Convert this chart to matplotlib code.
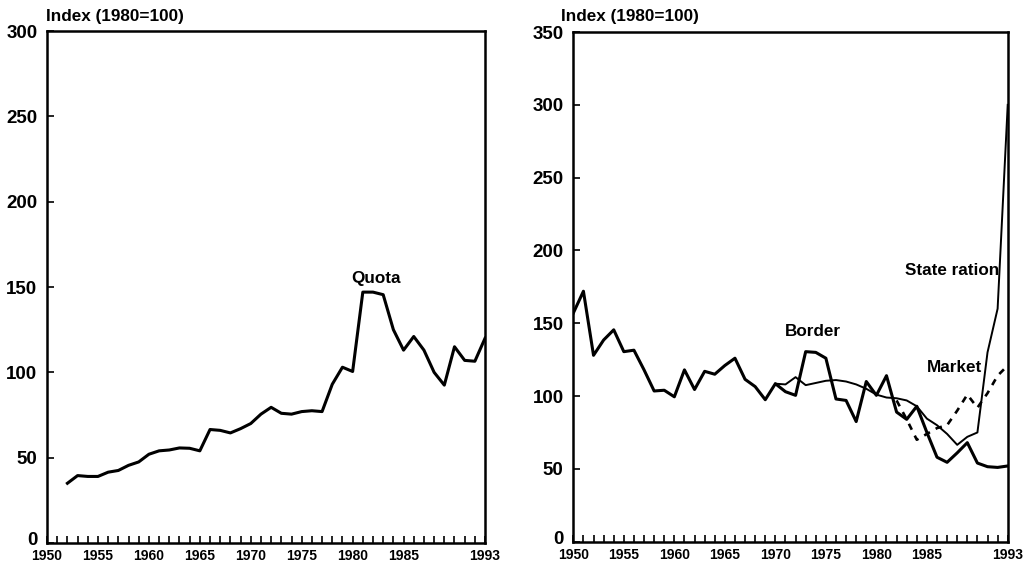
import numpy as np
import matplotlib
matplotlib.use("Agg")
import matplotlib.pyplot as plt
from matplotlib.transforms import ScaledTranslation

plt.rcParams['font.family'] = ['Liberation Sans', 'DejaVu Sans']
plt.rcParams['font.weight'] = 'bold'

# left panel: quota price index
quota_years = list(range(1952, 1994))
quota = [35, 39.5, 39, 39, 41.5, 42.5, 45.5, 47.5, 52, 54,
         54.5, 55.7, 55.5, 54, 66.5, 66, 64.5, 67, 70, 75.5,
         79.5, 76, 75.5, 77, 77.5, 77, 93, 103, 100.5, 147,
         147, 145.5, 125, 113, 121, 113, 100, 92.5, 115, 107,
         106.5, 120]

# right panel
border_years = list(range(1950, 1994))
border = [157, 172, 128, 138.5, 145.5, 130.5, 131.5, 118, 103.5, 104,
          99.5, 118, 104.5, 117, 115, 121, 126, 111.5, 106.5, 97.5,
          108.5, 103, 100.5, 130.5, 130, 126, 98, 97, 82.5, 110,
          100.5, 114, 89, 84, 93, 75, 58, 54.5, 61, 68,
          54, 51.5, 51, 52]

ration_years = list(range(1970, 1994))
ration = [108.5, 108, 113, 107.5, 109, 110.5, 111, 110, 108, 105,
          101, 99, 98.5, 97, 93, 84.5, 80, 74, 66.5, 72,
          75, 130, 160, 300]

market_years = list(range(1982, 1994))
market = [97, 84, 70, 74, 78, 80, 90, 101, 92, 102, 114, 121]

label_years = [1950, 1955, 1960, 1965, 1970, 1975, 1980, 1985, 1993]


def style_axis(ax, ymax):
    ax.set_xlim(1950, 1993)
    ax.set_ylim(0, ymax)
    ax.set_xticks(label_years)
    ax.set_xticklabels([str(y) for y in label_years])
    ax.set_xticks(range(1950, 1994), minor=True)
    ax.set_yticks(range(0, ymax + 1, 50))
    ax.tick_params(axis='x', which='both', direction='in', length=5, width=1.2,
                   labelsize=10, pad=4.5)
    ax.tick_params(axis='y', direction='in', length=5, width=1.2,
                   labelsize=13.5, pad=7)
    for s in ax.spines.values():
        s.set_linewidth(1.8)
    # lift the "0" a little so it clears the year labels
    zero = ax.get_yticklabels()[0]
    zero.set_transform(zero.get_transform() +
                       ScaledTranslation(0, 3 / 72, ax.figure.dpi_scale_trans))


fig = plt.figure(figsize=(10.36, 5.72), dpi=100)
ax1 = fig.add_axes([0.0454, 0.0507, 0.4228, 0.8951])
ax2 = fig.add_axes([0.5534, 0.0530, 0.4193, 0.8910])

ax1.plot(quota_years, quota, color='black', lw=2.2)
ax1.text(1982.3, 155, 'Quota', ha='center', va='center', fontsize=12.3)
style_axis(ax1, 300)

ax2.plot(border_years, border, color='black', lw=2.2)
ax2.plot(ration_years, ration, color='black', lw=1.4)
ax2.plot(market_years, market, color='black', lw=1.9, ls=(0, (2.5, 2.5)))
ax2.text(1973.7, 144, 'Border', ha='center', va='center', fontsize=12.3)
ax2.text(1992.2, 186, 'State ration', ha='right', va='center', fontsize=12.3)
ax2.text(1990.5, 119.5, 'Market', ha='right', va='center', fontsize=12.3)
style_axis(ax2, 350)

fig.text(46 / 1036, 1 - 17 / 572, 'Index (1980=100)', ha='left', va='center',
         fontsize=12.3)
fig.text(561 / 1036, 1 - 17 / 572, 'Index (1980=100)', ha='left', va='center',
         fontsize=12.3)

fig.savefig('out.png', dpi=100)
